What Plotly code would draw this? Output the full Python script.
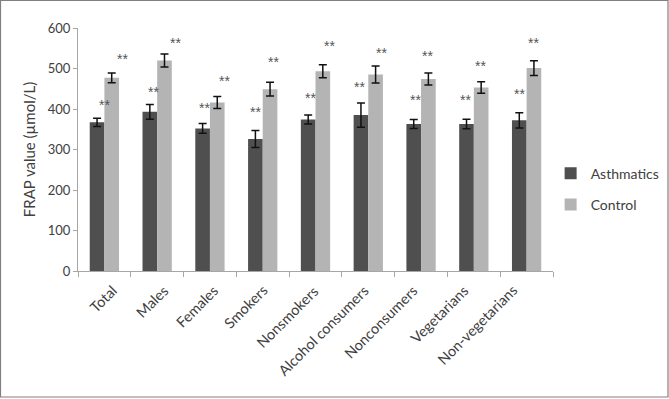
import plotly.graph_objects as go

categories = ["Total", "Males", "Females", "Smokers", "Nonsmokers",
              "Alcohol consumers", "Nonconsumers", "Vegetarians", "Non-vegetarians"]
asthmatics = [367, 393, 352, 326, 374, 385, 363, 363, 372]
asthmatics_err = [10, 18, 12, 21, 11, 30, 11, 12, 19]
control = [477, 520, 416, 449, 493, 485, 474, 453, 501]
control_err = [12, 16, 15, 17, 16, 21, 15, 14, 18]
sig_label = "**"

# annotation placement
star_y_asth = [410, 441, 402, 393, 428, 455, 422, 422, 437]
star_y_ctrl = [523, 563, 469, 515, 555, 539, 532, 507, 562]
star_dx_asth = [7, 4, 2, 0, 2, -1, 2, -1, 0]
star_dx_ctrl = [11, 11, 7, 3, 7, 6, -1, -1, 0]
label_dx = [13, 11, 8, 5, 3, 0, -3, -6, -9]

W, H = 669, 399
ML, MR, MT, MB = 78, 116, 28, 128
FONT = "Lato"
TXT = "#404040"

fig = go.Figure()
fig.add_trace(go.Bar(
    name="Asthmatics", x=categories, y=asthmatics,
    marker=dict(color="#4f4f4f", line=dict(width=0)),
    error_y=dict(type="data", array=asthmatics_err, color="#111111", thickness=1.5, width=4),
    legendgroup="a",
))
fig.add_trace(go.Bar(
    name="Control", x=categories, y=control,
    marker=dict(color="#b4b4b4", line=dict(width=0)),
    error_y=dict(type="data", array=control_err, color="#111111", thickness=1.5, width=4),
    legendgroup="c",
))

pw = W - ML - MR
cat_w = pw / len(categories)
bargap = 0.445
bw = cat_w * (1 - bargap) / 2
annots = []
for i, c in enumerate(categories):
    annots.append(dict(x=c, y=star_y_asth[i], text=sig_label, showarrow=False,
                       xshift=-bw / 2 + star_dx_asth[i], yanchor="middle",
                       font=dict(family="Liberation Sans", size=14, color="#555555")))
    annots.append(dict(x=c, y=star_y_ctrl[i], text=sig_label, showarrow=False,
                       xshift=bw / 2 + star_dx_ctrl[i], yanchor="middle",
                       font=dict(family="Liberation Sans", size=14, color="#555555")))
    # category label, rotated like the reference
    annots.append(dict(x=c, xref="x", y=0, yref="paper", text=c, showarrow=False,
                       textangle=-45, xanchor="right", yanchor="top",
                       xshift=label_dx[i] + 6, yshift=-8,
                       font=dict(family=FONT, size=14.5, color=TXT)))

ph = H - MT - MB
fig.add_shape(type="rect", xref="paper", yref="paper",
              x0=(0.5 - ML) / pw, x1=(668 - ML) / pw,
              y0=(H - MB - 397) / ph, y1=(H - MB - 0.5) / ph,
              line=dict(color="#808080", width=1.2), fillcolor="rgba(0,0,0,0)", layer="below")

fig.update_layout(
    width=W, height=H,
    margin=dict(l=ML, r=MR, t=MT, b=MB, autoexpand=False),
    paper_bgcolor="white", plot_bgcolor="white",
    barmode="group", bargap=bargap, bargroupgap=0,
    font=dict(family=FONT, color=TXT, size=13),
    annotations=annots,
    showlegend=True,
    legend=dict(x=0.995, y=0.337, xanchor="left", yanchor="middle",
                font=dict(family=FONT, size=14, color=TXT),
                traceorder="grouped", tracegroupgap=10,
                bgcolor="rgba(0,0,0,0)"),
    xaxis=dict(showline=True, linecolor="#a6a6a6", linewidth=1, automargin=False,
               ticks="outside", tickson="boundaries", ticklen=5, tickcolor="#a6a6a6",
               showticklabels=False, showgrid=False, zeroline=False),
    yaxis=dict(range=[0, 600], dtick=100, showline=True, linecolor="#a6a6a6", linewidth=1,
               automargin=False,
               ticks="outside", ticklen=4, tickcolor="#a6a6a6", showgrid=False, zeroline=False,
               tickfont=dict(family=FONT, size=13, color=TXT),
               title=dict(text="FRAP value (µmol/L)", standoff=8,
                          font=dict(family=FONT, size=15, color=TXT))),
)

fig.write_html("out.html", post_script="document.body.style.margin='0px';",
               config={"displayModeBar": False})
